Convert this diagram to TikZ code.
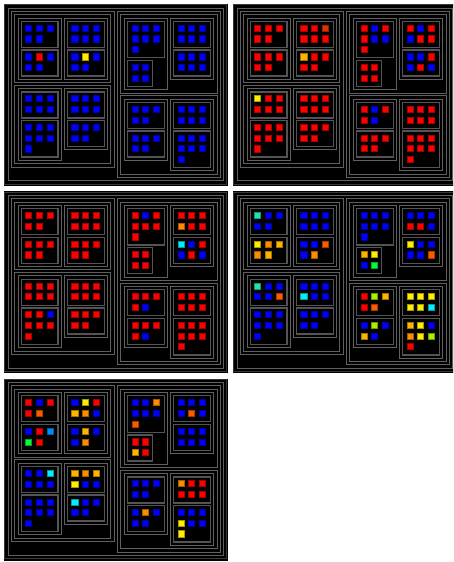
\documentclass[tikz,border=0pt]{standalone}
\definecolor{colB}{RGB}{0,0,255}
\definecolor{colR}{RGB}{255,0,0}
\definecolor{colY}{RGB}{255,238,0}
\definecolor{colO}{RGB}{255,140,0}
\definecolor{colE}{RGB}{255,90,0}
\definecolor{colG}{RGB}{255,180,0}
\definecolor{colC}{RGB}{0,240,255}
\definecolor{colA}{RGB}{30,230,170}
\definecolor{colN}{RGB}{0,255,60}
\definecolor{colL}{RGB}{170,240,0}
\definecolor{colS}{RGB}{0,140,255}
\definecolor{colD}{RGB}{225,50,0}
\definecolor{frameouter}{RGB}{56,56,56}
\definecolor{frameline}{RGB}{96,96,96}
\definecolor{boxgray}{RGB}{84,84,84}
\tikzset{
  outerframe/.style={draw=frameouter, line width=1pt},
  containerline/.style={draw=frameline, line width=1pt},
  boxline/.style={draw=boxgray, line width=1.3pt},
}
\newcommand\setlist[2]{\expandafter\def\csname #1\endcsname{#2}}
% #1 bx, #2 by, #3 w, #4 h, #5 ncols, #6 list name
\newcommand\sqbox[6]{%
  \draw[boxline] (#1,#2) rectangle ++(#3,#4);
  \edef\mylist{\csname #6\endcsname}%
  \foreach \c [count=\i from 0] in \mylist {
    \pgfmathtruncatemacro\rr{floor(\i/#5)}
    \pgfmathtruncatemacro\cc{\i-#5*\rr}
    \filldraw[fill=col\c, draw=col\c!65!black, line width=0.7pt]
      ({#1+4.35+10.7*\cc},{#2+3.75+10.7*\rr}) rectangle ++(6.1,6.1);
  }
}
\newcommand\drawpanel[3]{%
  \begin{scope}[shift={(#1,#2)}]
    \fill[black] (0,0) rectangle (224,182);
    \draw[outerframe] (0.8,0.8) rectangle (222.9,180.1);
    \draw[containerline] (4.1,4.1) rectangle (219.6,176.8);
    % left column
    \draw[containerline] (7.4,7.4) rectangle (110.1,163.0);
    \draw[containerline] (10.7,10.7) rectangle (106.8,78.6);
    \draw[containerline] (14.0,14.0) rectangle (57.4,75.3);
    \draw[containerline] (60.1,14.0) rectangle (103.5,75.3);
    \draw[containerline] (10.7,81.3) rectangle (106.8,159.7);
    \draw[containerline] (14.0,84.6) rectangle (57.4,156.4);
    \draw[containerline] (60.1,84.6) rectangle (103.5,145.9);
    % right column
    \draw[containerline] (113.6,7.4) rectangle (216.3,173.5);
    \draw[containerline] (116.9,10.7) rectangle (213.0,89.1);
    \draw[containerline] (120.2,14.0) rectangle (163.6,85.8);
    \draw[containerline] (166.3,14.0) rectangle (209.7,75.3);
    \draw[containerline] (116.9,91.8) rectangle (213.0,170.2);
    \draw[containerline] (120.2,95.1) rectangle (163.6,156.4);
    \draw[containerline] (166.3,95.1) rectangle (209.7,166.9);
    % boxes
    \sqbox{17.3}{17.3}{36.8}{26}{3}{#3b1}
    \sqbox{17.3}{46.0}{36.8}{26}{3}{#3b2}
    \sqbox{63.4}{17.3}{36.8}{26}{3}{#3b3}
    \sqbox{63.4}{46.0}{36.8}{26}{3}{#3b4}
    \sqbox{17.3}{87.9}{36.8}{26}{3}{#3b5}
    \sqbox{17.3}{116.6}{36.8}{36.5}{3}{#3b6}
    \sqbox{63.4}{87.9}{36.8}{26}{3}{#3b7}
    \sqbox{63.4}{116.6}{36.8}{26}{3}{#3b8}
    \sqbox{123.5}{17.3}{36.8}{36.5}{3}{#3b9}
    \sqbox{123.5}{56.5}{25}{26}{2}{#3b10}
    \sqbox{169.6}{17.3}{36.8}{26}{3}{#3b11}
    \sqbox{169.6}{46.0}{36.8}{26}{3}{#3b12}
    \sqbox{123.5}{98.4}{36.8}{26}{3}{#3b13}
    \sqbox{123.5}{127.1}{36.8}{26}{3}{#3b14}
    \sqbox{169.6}{98.4}{36.8}{26}{3}{#3b15}
    \sqbox{169.6}{127.1}{36.8}{36.5}{3}{#3b16}
  \end{scope}}
% panel 1
\setlist{pAb1}{B,B,B,B,B}
\setlist{pAb2}{B,R,B,B,B}
\setlist{pAb3}{B,B,B,B,B,B}
\setlist{pAb4}{B,Y,B,B,B}
\setlist{pAb5}{B,B,B,B,B,B}
\setlist{pAb6}{B,B,B,B,B,B,B}
\setlist{pAb7}{B,B,B,B,B,B}
\setlist{pAb8}{B,B,B,B,B}
\setlist{pAb9}{B,B,B,B,B,B,B}
\setlist{pAb10}{B,B,B,B}
\setlist{pAb11}{B,B,B,B,B,B}
\setlist{pAb12}{B,B,B,B,B,B}
\setlist{pAb13}{B,B,B,B,B}
\setlist{pAb14}{B,B,B,B,B}
\setlist{pAb15}{B,B,B,B,B,B}
\setlist{pAb16}{B,B,B,B,B,B,B}
% panel 2
\setlist{pBb1}{R,R,R,R,R}
\setlist{pBb2}{R,R,R,R,R}
\setlist{pBb3}{R,R,D,R,R,R}
\setlist{pBb4}{G,R,R,R,R}
\setlist{pBb5}{Y,R,R,R,R,R}
\setlist{pBb6}{R,R,R,R,R,R,R}
\setlist{pBb7}{R,R,R,R,R,R}
\setlist{pBb8}{R,R,R,R,R}
\setlist{pBb9}{R,B,R,R,B,B,R}
\setlist{pBb10}{R,R,R,R}
\setlist{pBb11}{R,B,R,B,R,R}
\setlist{pBb12}{B,B,R,B,R,B}
\setlist{pBb13}{R,B,R,R,B}
\setlist{pBb14}{R,R,R,R,R}
\setlist{pBb15}{R,R,R,R,R,R}
\setlist{pBb16}{R,R,R,R,R,R,R}
% panel 3
\setlist{pCb1}{R,R,R,R,R}
\setlist{pCb2}{R,R,R,R,R}
\setlist{pCb3}{R,R,R,R,R,R}
\setlist{pCb4}{R,R,R,R,R}
\setlist{pCb5}{R,R,R,R,R,R}
\setlist{pCb6}{R,R,B,R,R,R,R}
\setlist{pCb7}{R,R,R,R,R,R}
\setlist{pCb8}{R,R,R,R,R}
\setlist{pCb9}{R,B,R,R,R,R,R}
\setlist{pCb10}{R,R,R,R}
\setlist{pCb11}{R,R,R,O,R,R}
\setlist{pCb12}{C,B,R,B,R,B}
\setlist{pCb13}{R,R,R,R,B}
\setlist{pCb14}{R,R,R,R,B}
\setlist{pCb15}{R,R,R,R,R,R}
\setlist{pCb16}{R,R,R,R,R,R,R}
% panel 4
\setlist{pDb1}{A,B,B,B,B}
\setlist{pDb2}{Y,O,G,O,G}
\setlist{pDb3}{B,B,B,B,B,B}
\setlist{pDb4}{B,B,E,B,O}
\setlist{pDb5}{A,B,B,B,B,E}
\setlist{pDb6}{B,B,B,B,B,B,B}
\setlist{pDb7}{B,B,B,C,B,B}
\setlist{pDb8}{B,B,B,B,B}
\setlist{pDb9}{B,B,B,B,B,B,B}
\setlist{pDb10}{G,Y,B,N}
\setlist{pDb11}{B,B,B,R,R,B}
\setlist{pDb12}{Y,B,B,B,B,E}
\setlist{pDb13}{R,L,G,R,E}
\setlist{pDb14}{B,L,B,G,B}
\setlist{pDb15}{Y,Y,Y,Y,Y,C}
\setlist{pDb16}{G,Y,B,O,Y,L,R}
% panel 5
\setlist{pEb1}{R,B,R,R,E}
\setlist{pEb2}{B,R,S,N,R}
\setlist{pEb3}{B,Y,R,G,O,B}
\setlist{pEb4}{B,G,B,B,O}
\setlist{pEb5}{B,B,C,B,B,B}
\setlist{pEb6}{B,B,B,B,B,B,B}
\setlist{pEb7}{G,O,G,Y,B,B}
\setlist{pEb8}{C,B,B,B,B}
\setlist{pEb9}{B,B,O,B,B,B,E}
\setlist{pEb10}{R,R,G,R}
\setlist{pEb11}{B,B,B,B,E,B}
\setlist{pEb12}{B,B,B,B,B,B}
\setlist{pEb13}{B,B,B,B,B}
\setlist{pEb14}{B,O,B,B,B}
\setlist{pEb15}{O,R,R,R,R,R}
\setlist{pEb16}{B,B,B,Y,B,B,Y}
\begin{document}
\begin{tikzpicture}[x=1pt,y=-1pt]
  \useasboundingbox (0,0) rectangle (453,562);
  \fill[white] (0,0) rectangle (453,562);
  \begin{scope}
    \clip (0,0) rectangle (453,562);
    \drawpanel{4}{4}{pA}
    \drawpanel{233}{4}{pB}
    \drawpanel{4}{191.3}{pC}
    \drawpanel{233}{191.3}{pD}
    \drawpanel{4}{378.5}{pE}
  \end{scope}
\end{tikzpicture}
\end{document}
